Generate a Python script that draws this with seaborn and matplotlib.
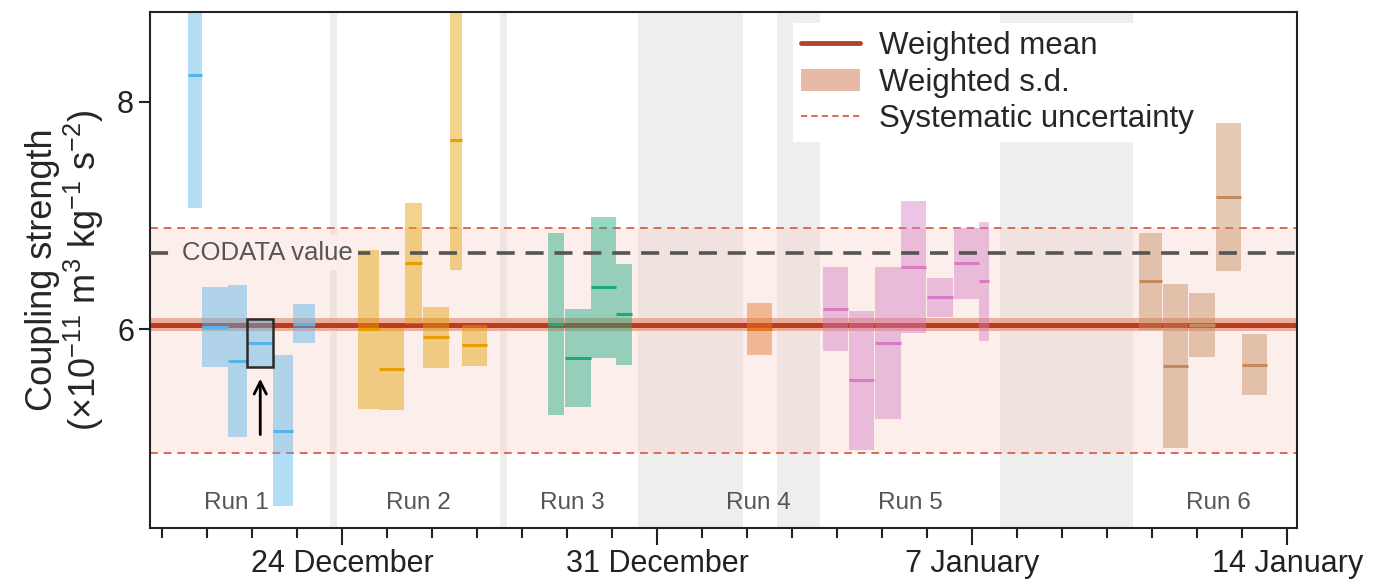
import matplotlib
matplotlib.use("Agg")
import matplotlib.pyplot as plt
from matplotlib.lines import Line2D
from matplotlib.patches import Patch
from matplotlib.ticker import FixedLocator, MultipleLocator
import seaborn as sns

# Measurement blocks: start/end in days relative to 24 December,
# mean and standard deviation of the coupling strength (x1e-11 m^3 kg^-1 s^-2)
run1_start = [-3.42, -3.11, -2.53, -2.11, -1.53, -1.09]
run1_end = [-3.11, -2.53, -2.11, -1.53, -1.09, -0.60]
run1_mean = [8.23, 6.02, 5.72, 5.88, 5.11, 6.05]
run1_sd = [1.16, 0.35, 0.67, 0.21, 0.66, 0.17]

run2_start = [0.36, 0.82, 1.40, 1.80, 2.40, 2.67]
run2_end = [0.82, 1.38, 1.78, 2.38, 2.67, 3.22]
run2_mean = [6.00, 5.65, 6.58, 5.93, 7.66, 5.86]
run2_sd = [0.70, 0.36, 0.53, 0.27, 1.14, 0.18]

run3_start = [4.58, 4.95, 5.53, 6.09]
run3_end = [4.93, 5.53, 6.09, 6.45]
run3_mean = [6.05, 5.75, 6.37, 6.13]
run3_sd = [0.80, 0.43, 0.62, 0.44]

run4_start = [9.00]
run4_end = [9.56]
run4_mean = [6.00]
run4_sd = [0.23]

run5_start = [10.69, 11.26, 11.85, 12.43, 13.00, 13.59, 14.16]
run5_end = [11.24, 11.83, 12.41, 12.98, 13.57, 14.15, 14.38]
run5_mean = [6.18, 5.55, 5.88, 6.55, 6.28, 6.58, 6.42]
run5_sd = [0.37, 0.61, 0.67, 0.58, 0.17, 0.31, 0.52]

run6_start = [17.71, 18.25, 18.82, 19.41, 20.00]
run6_end = [18.23, 18.80, 19.39, 19.98, 20.55]
run6_mean = [6.42, 5.68, 6.04, 7.16, 5.69]
run6_sd = [0.43, 0.72, 0.28, 0.65, 0.27]

run_names = ["Run 1", "Run 2", "Run 3", "Run 4", "Run 5", "Run 6"]
run_label_x = [-2.36, 1.69, 5.11, 9.24, 12.62, 19.47]

# Interruptions between runs (days relative to 24 December)
gap_start = [-0.27, 3.51, 6.58, 9.67, 14.62]
gap_end = [-0.11, 3.67, 8.91, 10.62, 17.58]

weighted_mean = 6.04
weighted_sd = 0.055
sys_low = 4.91
sys_high = 6.89
codata = 6.674

tick_days = [0, 7, 14, 21]
tick_labels = ["24 December", "31 December", "7 January", "14 January"]
highlight = (0, 3)  # run index, block index

sns.set_theme(style="ticks")
plt.rcParams.update({
    "font.family": ["Liberation Sans", "DejaVu Sans"],
    "mathtext.fontset": "custom",
    "mathtext.rm": "Liberation Sans",
    "mathtext.it": "Liberation Sans:italic",
    "mathtext.bf": "Liberation Sans:bold",
    "mathtext.default": "regular",
    "axes.edgecolor": "#222222",
    "axes.linewidth": 1.5,
    "xtick.color": "#222222",
    "ytick.color": "#222222",
})

run_colors = sns.color_palette(["#56B4E9", "#E69F00", "#1aaa7e", "#e8782a", "#d77cc4", "#c48a5c"])

runs = [
    (run1_start, run1_end, run1_mean, run1_sd),
    (run2_start, run2_end, run2_mean, run2_sd),
    (run3_start, run3_end, run3_mean, run3_sd),
    (run4_start, run4_end, run4_mean, run4_sd),
    (run5_start, run5_end, run5_mean, run5_sd),
    (run6_start, run6_end, run6_mean, run6_sd),
]

fig = plt.figure(figsize=(13.75, 5.82), dpi=100)
ax = fig.add_axes([0.1091, 0.0928, 0.8342, 0.8866])

# Background: interruptions and systematic band
for s, e in zip(gap_start, gap_end):
    ax.axvspan(s, e, color="#eeeeee", lw=0, zorder=0)
ax.axhspan(sys_low, sys_high, color="#f5c9bd", alpha=0.3, lw=0, zorder=0.5)
sys_kw = dict(color="#dd6a52", lw=1.4, dashes=(4, 3), zorder=1)
ax.axhline(sys_low, **sys_kw)
ax.axhline(sys_high, **sys_kw)

# Weighted mean with its spread
ax.axhspan(weighted_mean - weighted_sd, weighted_mean + weighted_sd,
           color="#e59a84", alpha=0.75, lw=0, zorder=1)
ax.axhline(weighted_mean, color="#c03a1c", lw=3.6, zorder=1.2)

# Measurement blocks
for (start, end, mean, sd), col in zip(runs, run_colors):
    widths = [e - s for s, e in zip(start, end)]
    lows = [m - d for m, d in zip(mean, sd)]
    heights = [2 * d for d in sd]
    ax.bar(start, heights, width=widths, bottom=lows, align="edge",
           color=col, alpha=0.45, lw=0, zorder=2)
    ax.hlines(mean, start, end, color=col, lw=2.2, zorder=3)

hr, hb = highlight
hs, he, hm, hd = (runs[hr][0][hb], runs[hr][1][hb], runs[hr][2][hb], runs[hr][3][hb])
ax.bar([hs], [2 * hd], width=[he - hs], bottom=[hm - hd], align="edge",
       fill=False, edgecolor="#2a2a2a", lw=1.8, zorder=4)
ax.annotate("", xy=((hs + he) / 2, hm - hd - 0.08), xytext=((hs + he) / 2, hm - hd - 0.62),
            arrowprops=dict(arrowstyle="->", color="black", lw=2, mutation_scale=22),
            zorder=5)

# CODATA reference
ax.axhline(codata, color="#555555", lw=2.6, dashes=(5, 3), zorder=3.5)
ax.text(-3.56, codata, "CODATA value", ha="left", va="center", fontsize=18.5,
        color="#555555", zorder=4,
        bbox=dict(boxstyle="square,pad=0.2", fc="#fcefeb", ec="none"))

for name, x in zip(run_names, run_label_x):
    ax.text(x, 4.47, name, ha="center", va="center", fontsize=17.5, color="#555555", zorder=4)

ax.set_xlim(-4.27, 21.22)
ax.set_ylim(4.254, 8.788)
ax.xaxis.set_major_locator(FixedLocator(tick_days))
ax.set_xticklabels(tick_labels)
ax.xaxis.set_minor_locator(MultipleLocator(1))
ax.yaxis.set_major_locator(FixedLocator([6, 8]))
ax.tick_params(axis="both", which="major", labelsize=22, length=8, width=1.5, direction="out")
ax.tick_params(axis="x", which="major", length=12, pad=3)
ax.tick_params(axis="x", which="minor", length=7, width=1.5)
for sp in ax.spines.values():
    sp.set_visible(True)

ax.set_ylabel("Coupling strength\n(×10$^{-11}$ m$^3$ kg$^{-1}$ s$^{-2}$)", fontsize=26,
              labelpad=8, linespacing=1.05)

handles = [
    Line2D([0], [0], color="#b0452d", lw=3.5),
    Patch(facecolor="#e9b9a8", edgecolor="none"),
    Line2D([0], [0], color="#d9705a", lw=1.5, dashes=(3, 2)),
]
leg = ax.legend(handles, ["Weighted mean", "Weighted s.d.", "Systematic uncertainty"],
                loc="upper left", bbox_to_anchor=(0.5605, 0.979), fontsize=22.5,
                frameon=True, framealpha=1, edgecolor="none", facecolor="white",
                handlelength=1.9, handletextpad=0.62, labelspacing=0.22,
                borderpad=0.25, borderaxespad=0, fancybox=False)
leg.set_zorder(6)

fig.savefig("out.png", dpi=100)
